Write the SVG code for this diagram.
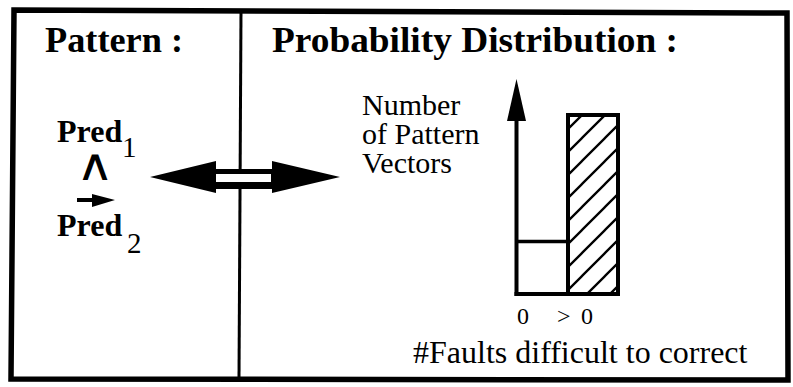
<svg xmlns="http://www.w3.org/2000/svg" width="793" height="387" viewBox="0 0 793 387">
<style>
  text { font-family: 'Liberation Serif', 'Times New Roman', serif; fill: #000; }
  .title { font-weight: bold; font-size: 36px; }
  .bold { font-weight: bold; font-size: 32px; }
  .reg { font-size: 30px; }
  .sub { font-size: 29px; }
  .tick { font-size: 24px; }
  .sym { font-family: 'DejaVu Sans', sans-serif; font-size: 40px; }
  .line { stroke: #000; fill: none; }
</style>
<defs>
  <pattern id="hatch" patternUnits="userSpaceOnUse" x="7" y="0" width="23" height="23">
    <path d="M0,23 L23,0 M-3,3 L3,-3 M20,26 L26,20" stroke="#000" stroke-width="2.3" fill="none"/>
  </pattern>
</defs>
<rect width="793" height="387" fill="#fff"/>
<g id="frame">
  <path class="line" d="M14,10 L787,13 L788,380 L11,379 Z" stroke-width="5.5"/>
  <line class="line" x1="241" y1="11" x2="239" y2="379" stroke-width="3"/>
</g>
<g id="pattern-panel">
  <text class="title" x="45" y="52" textLength="138" lengthAdjust="spacingAndGlyphs">Pattern :</text>
  <text class="bold" x="57" y="142">Pred</text>
  <text class="sub" x="122" y="157">1</text>
  <text class="sym" x="95" y="180" text-anchor="middle" transform="translate(95 180) scale(1.3 1.1) translate(-95 -180)">∧</text>
  <path d="M77,198 L92,198 L92,194 L115,200 L92,207 L92,202 L77,202 Z" fill="#000"/>
  <text class="bold" x="57" y="236">Pred</text>
  <text class="sub" x="127" y="253">2</text>
</g>
<g id="connectors">
  <path d="M150,177 L216,161 L216,169 L272,169 L272,161 L340,177 L272,193 L272,189 L216,189 L216,193 Z" fill="#000"/>
  <rect x="216" y="174" width="55" height="8" fill="#fff"/>
</g>
<g id="distribution-panel">
  <text class="title" x="272" y="52" textLength="406" lengthAdjust="spacingAndGlyphs">Probability Distribution :</text>
  <text class="reg" x="362" y="115">Number</text>
  <text class="reg" x="362" y="144">of Pattern</text>
  <text class="reg" x="362" y="173">Vectors</text>
  <g id="chart">
    <line class="line" x1="516.5" y1="116" x2="516.5" y2="296" stroke-width="4"/>
    <path d="M516.5,79 L526,121 L507,121 Z" fill="#000"/>
    <rect x="568" y="115" width="50" height="179" fill="url(#hatch)" stroke="#000" stroke-width="4"/>
    <path class="line" d="M516.5,241.5 L568,241.5" stroke-width="3.5"/>
    <line class="line" x1="514.5" y1="294" x2="620" y2="294" stroke-width="4"/>
  </g>
  <text class="tick" x="517" y="324">0</text>
  <text class="tick" x="557" y="324" textLength="36" lengthAdjust="spacing">&gt;0</text>
  <text class="reg" x="413" y="363" style="font-size:32px">#Faults difficult to correct</text>
</g>
</svg>
